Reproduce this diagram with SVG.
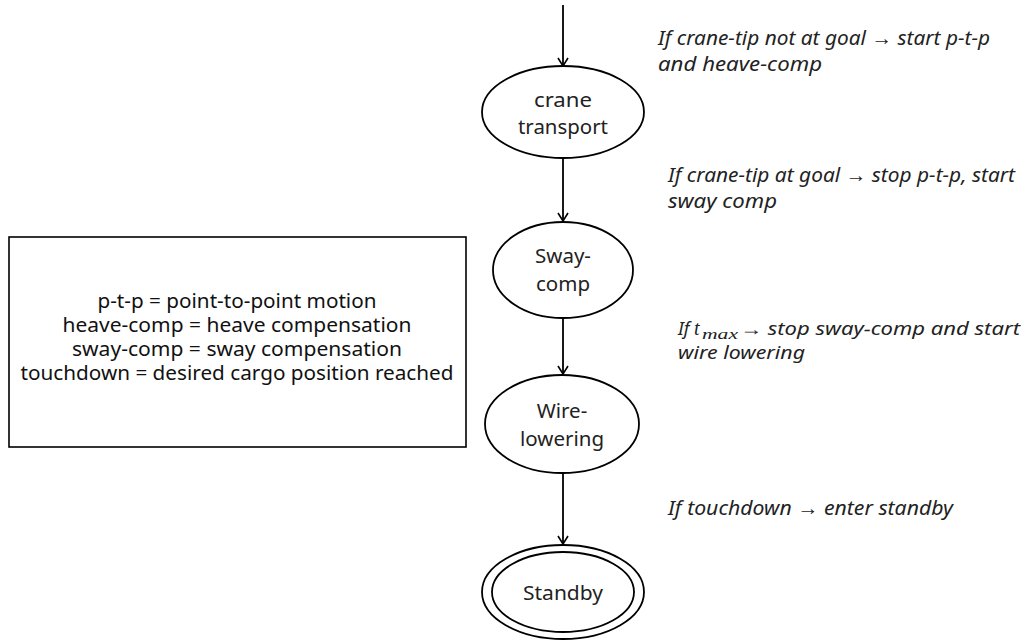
<svg xmlns="http://www.w3.org/2000/svg" width="1027" height="644" viewBox="0 0 1027 644">
  <defs>
    <marker id="arrow" viewBox="0 0 12 12" refX="10" refY="6" markerWidth="12" markerHeight="12" markerUnits="userSpaceOnUse" orient="auto">
      <path d="M2,1 L10,6 L2,11" fill="none" stroke="#000" stroke-width="1.6"/>
    </marker>
    <style>
      .state { fill: #fff; stroke: #000; stroke-width: 1.8; }
      .label { font-family: "Noto Sans", "Open Sans", sans-serif; font-size: 20.5px; fill: #222; text-anchor: middle; }
      .note { font-family: "Noto Sans", "Open Sans", sans-serif; font-size: 20px; font-style: italic; fill: #222; }
      .note.tight { font-size: 18px; }
      .legend { font-family: "Noto Sans", "Open Sans", sans-serif; font-size: 19px; fill: #111; text-anchor: middle; }
      .math { font-family: "Liberation Serif", "DejaVu Serif", serif; font-style: italic; }
      .edge { stroke: #000; stroke-width: 1.8; fill: none; marker-end: url(#arrow); }
    </style>
  </defs>
  <rect width="1027" height="644" fill="#fff"/>

  <!-- transitions -->
  <g id="connectors">
    <line class="edge" x1="563" y1="5" x2="563" y2="66"/>
    <line class="edge" x1="563" y1="158" x2="563" y2="221"/>
    <line class="edge" x1="563" y1="318" x2="563" y2="374"/>
    <line class="edge" x1="563" y1="473" x2="563" y2="544"/>
  </g>

  <g id="crane-transport">
    <ellipse class="state" cx="563" cy="112" rx="81" ry="46"/>
    <text class="label" x="563" y="107" textLength="58" lengthAdjust="spacingAndGlyphs">crane</text>
    <text class="label" x="563" y="134" textLength="90" lengthAdjust="spacingAndGlyphs">transport</text>
  </g>

  <g id="sway-comp">
    <ellipse class="state" cx="563" cy="270" rx="70" ry="48"/>
    <text class="label" x="563" y="263">Sway-</text>
    <text class="label" x="563" y="291">comp</text>
  </g>

  <g id="wire-lowering">
    <ellipse class="state" cx="562" cy="424" rx="77" ry="49"/>
    <text class="label" x="562" y="418">Wire-</text>
    <text class="label" x="562" y="446">lowering</text>
  </g>

  <g id="standby">
    <ellipse class="state" cx="563" cy="592" rx="81" ry="47"/>
    <ellipse class="state" cx="563" cy="592" rx="71" ry="40"/>
    <text class="label" x="563" y="600" textLength="80" lengthAdjust="spacingAndGlyphs">Standby</text>
  </g>

  <g id="legend">
    <rect x="9" y="237" width="457" height="210" fill="#fff" stroke="#000" stroke-width="1.6"/>
    <text class="legend" x="237" y="308" textLength="279" lengthAdjust="spacingAndGlyphs">p-t-p = point-to-point motion</text>
    <text class="legend" x="237" y="332" textLength="349" lengthAdjust="spacingAndGlyphs">heave-comp = heave compensation</text>
    <text class="legend" x="237" y="356" textLength="330" lengthAdjust="spacingAndGlyphs">sway-comp = sway compensation</text>
    <text class="legend" x="237" y="380" textLength="433" lengthAdjust="spacingAndGlyphs">touchdown = desired cargo position reached</text>
  </g>

  <g id="transition-notes">
    <text class="note" x="658" y="45" textLength="332" lengthAdjust="spacingAndGlyphs">If crane-tip not at goal → start p-t-p</text>
    <text class="note" x="658" y="71" textLength="164" lengthAdjust="spacingAndGlyphs">and heave-comp</text>
    <text class="note" x="668" y="182" textLength="347" lengthAdjust="spacingAndGlyphs">If crane-tip at goal → stop p-t-p, start</text>
    <text class="note" x="668" y="208" textLength="109" lengthAdjust="spacingAndGlyphs">sway comp</text>
    <text class="note tight" x="678" y="335">If<tspan class="math" x="694" font-size="20">t</tspan><tspan class="math" x="702" dy="4" font-size="14" textLength="36" lengthAdjust="spacingAndGlyphs">max</tspan><tspan x="740" dy="-4" textLength="280" lengthAdjust="spacingAndGlyphs">→ stop sway-comp and start</tspan></text>
    <text class="note tight" x="678" y="359" textLength="127" lengthAdjust="spacingAndGlyphs">wire lowering</text>
    <text class="note" x="668" y="515" textLength="285" lengthAdjust="spacingAndGlyphs">If touchdown → enter standby</text>
  </g>
</svg>
